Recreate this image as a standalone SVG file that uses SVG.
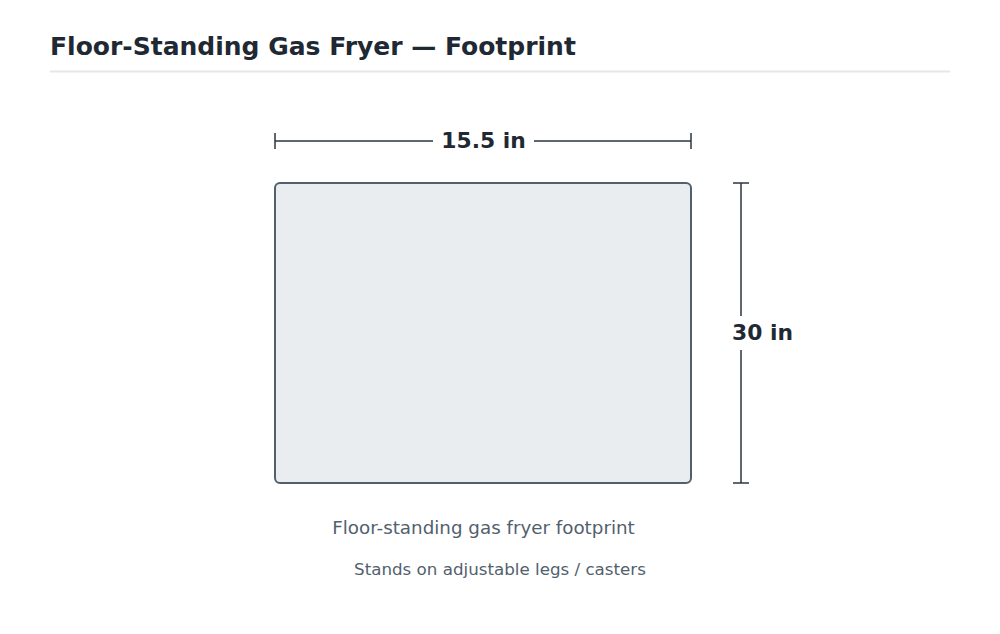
<svg xmlns="http://www.w3.org/2000/svg" width="1000" height="634" viewBox="0 0 1000 634">
<style>
.title{font-family:"DejaVu Sans",sans-serif;font-weight:bold;font-size:25px;fill:#1f2933}
.dim{font-family:"DejaVu Sans",sans-serif;font-weight:bold;font-size:21.8px;fill:#1f2933}
.cap{font-family:"DejaVu Sans",sans-serif;fill:#52606d}
.dl{stroke:#2d3640;stroke-width:1.5;fill:none}
</style>
<rect width="1000" height="634" fill="#ffffff"/>
<g id="header">
<text class="title" x="50" y="55">Floor-Standing Gas Fryer — Footprint</text>
<line x1="50" y1="71.5" x2="950" y2="71.5" stroke="#e4e7eb" stroke-width="2"/>
</g>
<g id="footprint">
<rect x="275" y="183" width="416" height="300" rx="5" fill="#e9edf0" stroke="#52606d" stroke-width="2"/>
</g>
<g id="dimensions">
<path class="dl" d="M275 141H433M534 141H691M275 133V149M691 133V149"/>
<text class="dim" x="483.5" y="148" text-anchor="middle">15.5 in</text>
<path class="dl" d="M741 183V316M741 350V483M733 183H749M733 483H749"/>
<text class="dim" x="762.5" y="340" text-anchor="middle">30 in</text>
</g>
<g id="captions">
<text class="cap" x="483.5" y="533.5" font-size="18.3" text-anchor="middle">Floor-standing gas fryer footprint</text>
<text class="cap" x="500" y="575" font-size="16.7" text-anchor="middle">Stands on adjustable legs / casters</text>
</g>
</svg>
